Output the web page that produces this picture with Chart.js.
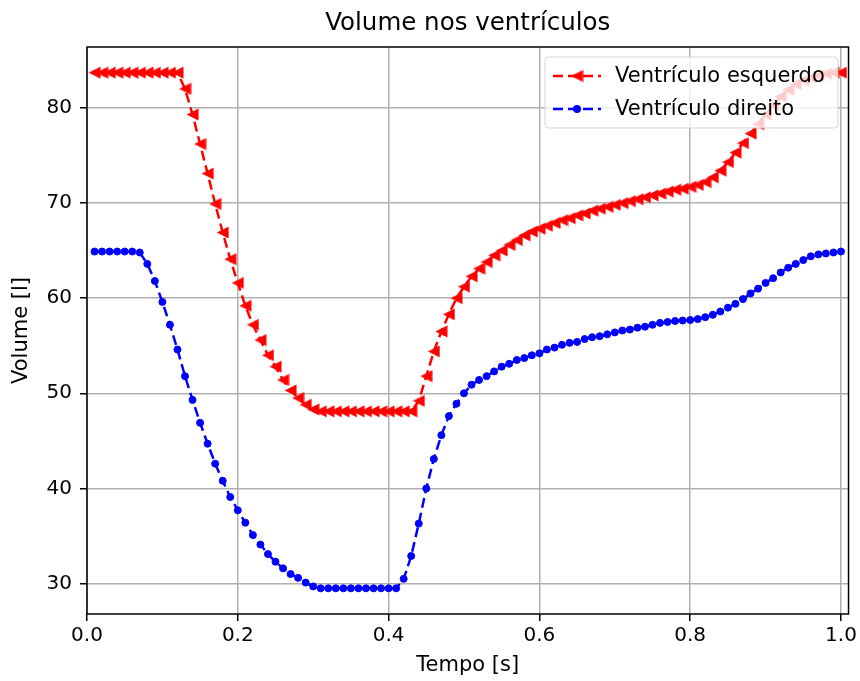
<!DOCTYPE html>
<html lang="pt">
  <head>
    <meta charset="UTF-8" />
    <title>Volume nos ventrículos</title>
    <script src="https://cdn.jsdelivr.net/npm/chart.js@4.4.0/dist/chart.umd.min.js"></script>
    <style>
      html, body { margin: 0; padding: 0; background: #fff; }
      #wrap { width: 860px; height: 681px; }
    </style>
  </head>
  <body>
    <div id="wrap"><canvas id="chart" width="860" height="681"></canvas></div>
    <script>
      // time axis (s)
      const tempo = [
        0.01, 0.02, 0.03, 0.04, 0.05, 0.06, 0.07, 0.08, 0.09, 0.10,
        0.11, 0.12, 0.13, 0.14, 0.15, 0.16, 0.17, 0.18, 0.19, 0.20,
        0.21, 0.22, 0.23, 0.24, 0.25, 0.26, 0.27, 0.28, 0.29, 0.30,
        0.31, 0.32, 0.33, 0.34, 0.35, 0.36, 0.37, 0.38, 0.39, 0.40,
        0.41, 0.42, 0.43, 0.44, 0.45, 0.46, 0.47, 0.48, 0.49, 0.50,
        0.51, 0.52, 0.53, 0.54, 0.55, 0.56, 0.57, 0.58, 0.59, 0.60,
        0.61, 0.62, 0.63, 0.64, 0.65, 0.66, 0.67, 0.68, 0.69, 0.70,
        0.71, 0.72, 0.73, 0.74, 0.75, 0.76, 0.77, 0.78, 0.79, 0.80,
        0.81, 0.82, 0.83, 0.84, 0.85, 0.86, 0.87, 0.88, 0.89, 0.90,
        0.91, 0.92, 0.93, 0.94, 0.95, 0.96, 0.97, 0.98, 0.99, 1.00
      ];

      // left ventricle volume
      const volEsquerdo = [
        83.7, 83.7, 83.7, 83.7, 83.7, 83.7, 83.7, 83.7, 83.7, 83.7,
        83.7, 83.7, 82.0, 79.3, 76.2, 73.1, 69.9, 66.9, 64.1, 61.6,
        59.2, 57.2, 55.6, 54.0, 52.8, 51.4, 50.3, 49.5, 48.8, 48.3,
        48.1, 48.1, 48.1, 48.1, 48.1, 48.1, 48.1, 48.1, 48.1, 48.1,
        48.1, 48.1, 48.1, 49.2, 51.8, 54.4, 56.5, 58.3, 60.0, 61.2,
        62.3, 63.1, 63.8, 64.5, 65.0, 65.6, 66.1, 66.6, 67.0, 67.3,
        67.6, 67.9, 68.2, 68.4, 68.7, 68.9, 69.2, 69.4, 69.6, 69.8,
        70.0, 70.2, 70.4, 70.6, 70.8, 71.0, 71.2, 71.4, 71.5, 71.7,
        71.9, 72.2, 72.7, 73.4, 74.3, 75.3, 76.3, 77.3, 78.3, 79.3,
        80.3, 81.2, 81.9, 82.5, 82.9, 83.2, 83.4, 83.6, 83.7, 83.7
      ];

      // right ventricle volume
      const volDireito = [
        64.9, 64.9, 64.9, 64.9, 64.9, 64.9, 64.8, 63.6, 61.8, 59.6,
        57.2, 54.6, 51.8, 49.3, 46.9, 44.7, 42.6, 40.8, 39.1, 37.7,
        36.4, 35.1, 34.1, 33.1, 32.3, 31.6, 31.0, 30.6, 30.1, 29.7,
        29.5, 29.5, 29.5, 29.5, 29.5, 29.5, 29.5, 29.5, 29.5, 29.5,
        29.5, 30.5, 32.9, 36.3, 40.0, 43.1, 45.6, 47.6, 48.9, 50.0,
        50.9, 51.4, 51.8, 52.3, 52.8, 53.1, 53.5, 53.7, 54.0, 54.2,
        54.6, 54.8, 55.1, 55.3, 55.4, 55.7, 55.9, 56.0, 56.2, 56.4,
        56.6, 56.7, 56.9, 57.0, 57.2, 57.4, 57.5, 57.6, 57.65, 57.7,
        57.8, 58.0, 58.25, 58.6, 59.0, 59.4, 59.9, 60.5, 61.0, 61.6,
        62.1, 62.7, 63.2, 63.6, 64.0, 64.4, 64.6, 64.7, 64.8, 64.9
      ];

      const xTicks = [0.0, 0.2, 0.4, 0.6, 0.8, 1.0];
      const yTicks = [30, 40, 50, 60, 70, 80];

      const FONT = "'DejaVu Sans', sans-serif";

      // left-pointing triangle marker, like matplotlib '<'
      function makeTriangle(color, size) {
        const c = document.createElement('canvas');
        c.width = size; c.height = size;
        const g = c.getContext('2d');
        g.fillStyle = color;
        g.beginPath();
        g.moveTo(0.5, size / 2);
        g.lineTo(size - 0.5, 0.5);
        g.lineTo(size - 0.5, size - 0.5);
        g.closePath();
        g.fill();
        return c;
      }
      const triMarker = makeTriangle('#ff0000', 13);

      const series = [
        { label: 'Ventrículo esquerdo', values: volEsquerdo, color: '#ff0000', marker: 'tri' },
        { label: 'Ventrículo direito', values: volDireito, color: '#0000ff', marker: 'dot' }
      ];

      function drawMarker(ctx, kind, x, y) {
        if (kind === 'tri') {
          ctx.drawImage(triMarker, x - 6.5, y - 6.5);
        } else {
          ctx.beginPath();
          ctx.arc(x, y, 4, 0, Math.PI * 2);
          ctx.fillStyle = '#0000ff';
          ctx.fill();
        }
      }

      const frameAndLegend = {
        id: 'frameAndLegend',
        afterDatasetsDraw(chart) {
          const ctx = chart.ctx;
          const a = chart.chartArea;
          ctx.save();
          // spines
          ctx.strokeStyle = '#000';
          ctx.lineWidth = 1.5;
          ctx.strokeRect(a.left, a.top, a.right - a.left, a.bottom - a.top);

          // legend box (semi-transparent, matplotlib style)
          const lx = 545, ly = 57, lw = 293, lh = 71, r = 4;
          ctx.beginPath();
          ctx.roundRect(lx, ly, lw, lh, r);
          ctx.fillStyle = 'rgba(255,255,255,0.8)';
          ctx.fill();
          ctx.strokeStyle = 'rgba(204,204,204,0.8)';
          ctx.lineWidth = 1;
          ctx.stroke();

          const rows = [76, 109];
          series.forEach((s, i) => {
            const y = rows[i];
            ctx.beginPath();
            ctx.setLineDash([10, 5]);
            ctx.strokeStyle = s.color;
            ctx.lineWidth = 2.5;
            ctx.moveTo(553, y);
            ctx.lineTo(601, y);
            ctx.stroke();
            ctx.setLineDash([]);
            drawMarker(ctx, s.marker, 577, y);
            ctx.fillStyle = '#000';
            ctx.font = '21px ' + FONT;
            ctx.textAlign = 'left';
            ctx.textBaseline = 'middle';
            ctx.fillText(s.label, 615, y + 1);
          });

          // title
          ctx.fillStyle = '#000';
          ctx.font = '24.5px ' + FONT;
          ctx.textAlign = 'center';
          ctx.textBaseline = 'middle';
          ctx.fillText('Volume nos ventrículos', (a.left + a.right) / 2, 24);
          ctx.restore();
        }
      };

      const datasets = series.map(s => ({
        label: s.label,
        data: tempo.map((t, i) => ({ x: t, y: s.values[i] })),
        borderColor: s.color,
        backgroundColor: s.color,
        borderWidth: 2.5,
        borderDash: [10, 5],
        tension: 0,
        fill: false,
        pointStyle: s.marker === 'tri' ? triMarker : 'circle',
        pointRadius: s.marker === 'tri' ? 6 : 3.5,
        pointBorderWidth: s.marker === 'tri' ? 0 : 1,
        pointBackgroundColor: s.color,
        pointBorderColor: s.color
      }));

      new Chart(document.getElementById('chart').getContext('2d'), {
        type: 'line',
        data: { datasets: datasets },
        options: {
          responsive: false,
          animation: false,
          layout: { padding: { top: 47, right: 11, left: 0, bottom: 0 } },
          scales: {
            x: {
              type: 'linear',
              min: 0,
              max: 1.01,
              afterFit: s => { s.height = 67; },
              afterBuildTicks: s => { s.ticks = xTicks.map(v => ({ value: v })); },
              grid: { color: '#b0b0b0', lineWidth: 1.5, tickColor: '#000', tickLength: 7, tickWidth: 1.5 },
              border: { display: false },
              ticks: {
                padding: 3,
                color: '#000',
                font: { family: FONT, size: 20 },
                callback: v => v.toFixed(1),
                maxRotation: 0
              },
              title: {
                display: true,
                text: 'Tempo [s]',
                color: '#000',
                font: { family: FONT, size: 21 },
                padding: { top: 0, bottom: 3 }
              }
            },
            y: {
              min: 26.8,
              max: 86.4,
              afterFit: s => { s.width = 87; },
              afterBuildTicks: s => { s.ticks = yTicks.map(v => ({ value: v })); },
              grid: { color: '#b0b0b0', lineWidth: 1.5, tickColor: '#000', tickLength: 7, tickWidth: 1.5 },
              border: { display: false },
              ticks: {
                padding: 8,
                color: '#000',
                font: { family: FONT, size: 20 },
                callback: v => String(v)
              },
              title: {
                display: true,
                text: 'Volume [l]',
                color: '#000',
                font: { family: FONT, size: 21 },
                padding: { top: 9, bottom: 0 }
              }
            }
          },
          plugins: {
            legend: { display: false },
            title: { display: false },
            tooltip: { enabled: false }
          }
        },
        plugins: [frameAndLegend]
      });
    </script>
  </body>
</html>
